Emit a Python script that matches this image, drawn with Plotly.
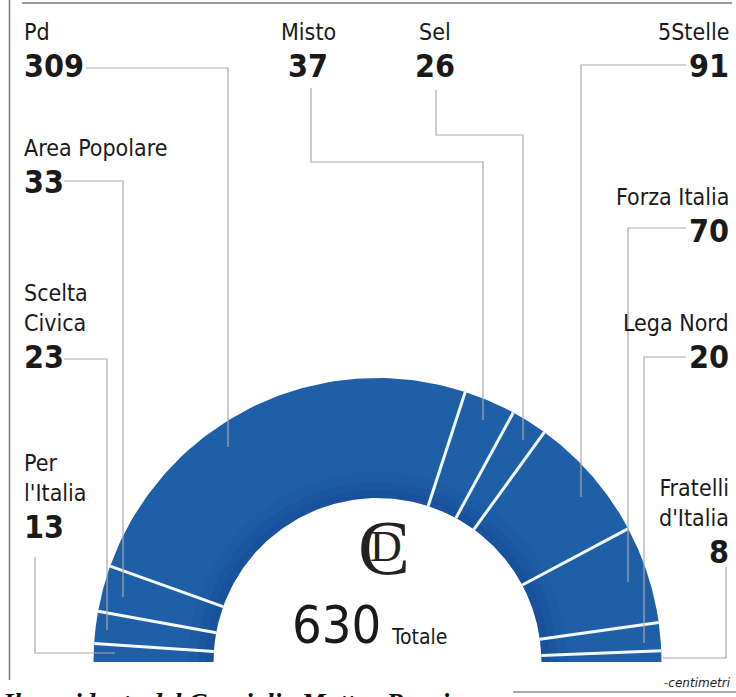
import numpy as np
import plotly.graph_objects as go

# ---- data ----
parties = ["Per l'Italia", "Scelta Civica", "Area Popolare", "Pd", "Misto",
           "Sel", "5Stelle", "Forza Italia", "Lega Nord", "Fratelli d'Italia"]
seats = [13, 23, 33, 309, 37, 26, 91, 70, 20, 8]
label_lines = [["Per", "l'Italia"], ["Scelta", "Civica"], ["Area Popolare"], ["Pd"], ["Misto"],
               ["Sel"], ["5Stelle"], ["Forza Italia"], ["Lega Nord"], ["Fratelli", "d'Italia"]]
total_label = "Totale"

# ---- layout geometry (pixel-like coordinates) ----
W, H = 736, 697
CX, CY = 377.5, 662.0
R_OUT, R_IN = 284.0, 164.0
BLUE = "#1f5fa7"
GRAY = "#a8a8a8"
FONT = "DejaVu Sans Condensed, Liberation Sans Narrow, sans-serif"
NAME_SIZE, NUM_SIZE = 23, 32

fig = go.Figure()

total = sum(seats)
cum = np.concatenate([[0], np.cumsum(seats)]) / total


def arc(r, f0, f1, n=80):
    t = np.pi * (1 - np.linspace(f0, f1, n))
    return CX + r * np.cos(t), CY - r * np.sin(t)


for i, p in enumerate(parties):
    xo, yo = arc(R_OUT, cum[i], cum[i + 1])
    xi, yi = arc(R_IN, cum[i], cum[i + 1])
    xs = np.concatenate([xo, xi[::-1], xo[:1]])
    ys = np.concatenate([yo, yi[::-1], yo[:1]])
    fig.add_trace(go.Scatter(x=xs, y=ys, fill="toself", fillcolor=BLUE, mode="lines",
                             line=dict(color=BLUE, width=0), hoverinfo="text",
                             text=f"{p}: {seats[i]}", showlegend=False))
    # subtle darker shading towards the inner edge
    for dr, op in [(26, 0.10), (16, 0.12), (8, 0.14)]:
        xm, ym = arc(R_IN + dr, cum[i], cum[i + 1])
        xs2 = np.concatenate([xm, xi[::-1], xm[:1]])
        ys2 = np.concatenate([ym, yi[::-1], ym[:1]])
        fig.add_trace(go.Scatter(x=xs2, y=ys2, fill="toself", fillcolor=f"rgba(20,55,135,{op})",
                                 mode="lines", line=dict(width=0), hoverinfo="skip",
                                 showlegend=False))

# separators
for f in cum[1:-1]:
    t = np.pi * (1 - f)
    fig.add_trace(go.Scatter(x=[CX + R_IN * np.cos(t), CX + R_OUT * np.cos(t)],
                             y=[CY - R_IN * np.sin(t), CY - R_OUT * np.sin(t)],
                             mode="lines", line=dict(color="#f4fbff", width=3),
                             hoverinfo="skip", showlegend=False))

# ---- label placement (layout): anchor x, cap-top y of first line, align, connector path ----
place = {
    "Per l'Italia": (22, 455, "left", [(35, 557), (35, 653), (115, 653)]),
    "Scelta Civica": (22, 285, "left", [(64, 359), (107, 359), (107, 630)]),
    "Area Popolare": (22, 140, "left", [(64, 181), (123, 181), (123, 597)]),
    "Pd": (22, 24, "left", [(86, 68), (228, 68), (228, 447)]),
    "Misto": (308, 24, "center", [(311, 88), (311, 162), (483, 162), (483, 420)]),
    "Sel": (435, 24, "center", [(436, 90), (436, 135), (523, 135), (523, 440)]),
    "5Stelle": (731, 24, "right", [(686, 65), (581, 65), (581, 497)]),
    "Forza Italia": (731, 189, "right", [(686, 228), (628, 228), (628, 582)]),
    "Lega Nord": (731, 315, "right", [(686, 357), (644, 357), (644, 643)]),
    "Fratelli d'Italia": (731, 480, "right", [(726, 567), (726, 658), (663, 658)]),
}

for i, p in enumerate(parties):
    x0, cap_top, al, path = place[p]
    lines = label_lines[i]
    fig.add_annotation(x=x0, y=cap_top - 7, xref="x", yref="y", text="<br>".join(lines),
                       showarrow=False, xanchor=al, yanchor="top", align=al,
                       font=dict(family=FONT, size=NAME_SIZE, color="#1a1a1a"))
    num_cap_top = cap_top + 30 * len(lines) - 1
    fig.add_annotation(x=x0, y=num_cap_top - 8, xref="x", yref="y", text=f"<b>{seats[i]}</b>",
                       showarrow=False, xanchor=al, yanchor="top", align=al,
                       font=dict(family=FONT, size=NUM_SIZE, color="#1a1a1a"))
    px, py = zip(*path)
    fig.add_trace(go.Scatter(x=list(px), y=list(py), mode="lines",
                             line=dict(color=GRAY, width=1.2), hoverinfo="skip", showlegend=False))

# centre: interlaced monogram + total
fig.add_annotation(x=384, y=547, xref="x", yref="y", text="C", showarrow=False,
                   font=dict(family="Liberation Serif, serif", size=78, color="#222"),
                   xanchor="center", yanchor="middle")
fig.add_annotation(x=386, y=546, xref="x", yref="y", text="D", showarrow=False,
                   font=dict(family="Liberation Serif, serif", size=44, color="#222"),
                   xanchor="center", yanchor="middle")
fig.add_annotation(x=383, y=657, xref="x", yref="y", text=str(total), showarrow=False,
                   font=dict(family=FONT, size=52, color="#1a1a1a"),
                   xanchor="right", yanchor="bottom")
fig.add_annotation(x=389, y=651, xref="x", yref="y", text=total_label, showarrow=False,
                   font=dict(family=FONT, size=21, color="#1a1a1a"),
                   xanchor="left", yanchor="bottom")

# frame lines
fig.add_trace(go.Scatter(x=[22, 732], y=[3, 3], mode="lines", line=dict(color="#777", width=1.5),
                         hoverinfo="skip", showlegend=False))
fig.add_trace(go.Scatter(x=[9.5, 9.5], y=[0, 680], mode="lines", line=dict(color="#777", width=1.5),
                         hoverinfo="skip", showlegend=False))
fig.add_trace(go.Scatter(x=[513, 736], y=[692, 692], mode="lines", line=dict(color="#555", width=1.2),
                         hoverinfo="skip", showlegend=False))

# credit
fig.add_annotation(x=733, y=683, xref="x", yref="y",
                   text="<span style='color:#d0202a'>-</span><i>centimetri</i>", showarrow=False,
                   font=dict(family="DejaVu Sans, sans-serif", size=12, color="#222"),
                   xanchor="right", yanchor="middle")

# cut-off headline at the bottom
fig.add_annotation(x=0, y=686, xref="x", yref="y",
                   text="<b><i>Il presidente del Consiglio Matteo Renzi</i></b>", showarrow=False,
                   font=dict(family="Liberation Serif, serif", size=27, color="#111"),
                   xanchor="left", yanchor="top")

fig.update_layout(
    width=W, height=H, margin=dict(l=0, r=0, t=0, b=0),
    paper_bgcolor="white", plot_bgcolor="white",
    xaxis=dict(range=[0, W], visible=False, fixedrange=True),
    yaxis=dict(range=[H, 0], visible=False, fixedrange=True),
    showlegend=False,
)

fig.write_html("out.html", config={"displayModeBar": False},
               post_script="document.body.style.margin='0';document.body.style.overflow='hidden';")
